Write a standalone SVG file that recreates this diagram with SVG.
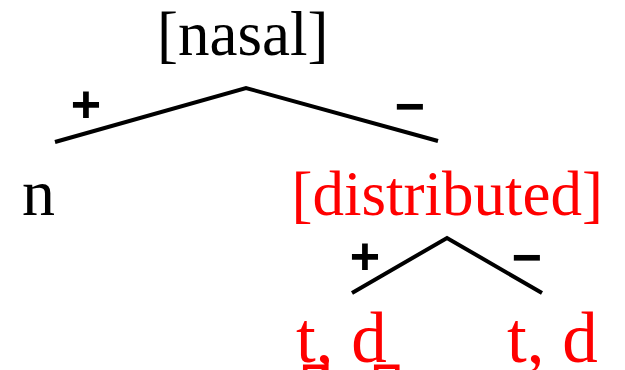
<svg xmlns="http://www.w3.org/2000/svg" width="625" height="370" viewBox="0 0 625 370">
<style>
.serif{font-family:"Liberation Serif","Times New Roman",serif}
.sign{font-family:"Liberation Sans",Arial,sans-serif;font-weight:bold;font-size:52px}
.red{fill:#ff0000}
.blk{fill:#000}
.edge{stroke:#000;stroke-width:4;fill:none;stroke-linecap:butt}
</style>
<rect width="625" height="370" fill="#fff"/>
<g id="node-nasal"><text class="serif blk" x="157" y="55" font-size="63">[nasal]</text></g>
<g id="node-n"><text class="serif blk" x="22" y="215" font-size="66">n</text></g>
<g id="node-distributed"><text class="serif red" x="291.5" y="215" font-size="63">[distributed]</text></g>
<g id="node-td-plus"><text class="serif red" x="296" y="362" font-size="71">t̪, d̪</text></g>
<g id="node-td-minus"><text class="serif red" x="507" y="362" font-size="71">t, d</text></g>
<g id="connectors">
<path class="edge" d="M55,142 L246,88 L438,141"/>
<path class="edge" d="M352,293 L447,238 L542,293"/>
<text class="sign blk" x="86" y="122" text-anchor="middle">+</text>
<text class="sign blk" x="410" y="124" text-anchor="middle">−</text>
<text class="sign blk" x="365" y="274" text-anchor="middle">+</text>
<text class="sign blk" x="527" y="275" text-anchor="middle">−</text>
</g>
</svg>
